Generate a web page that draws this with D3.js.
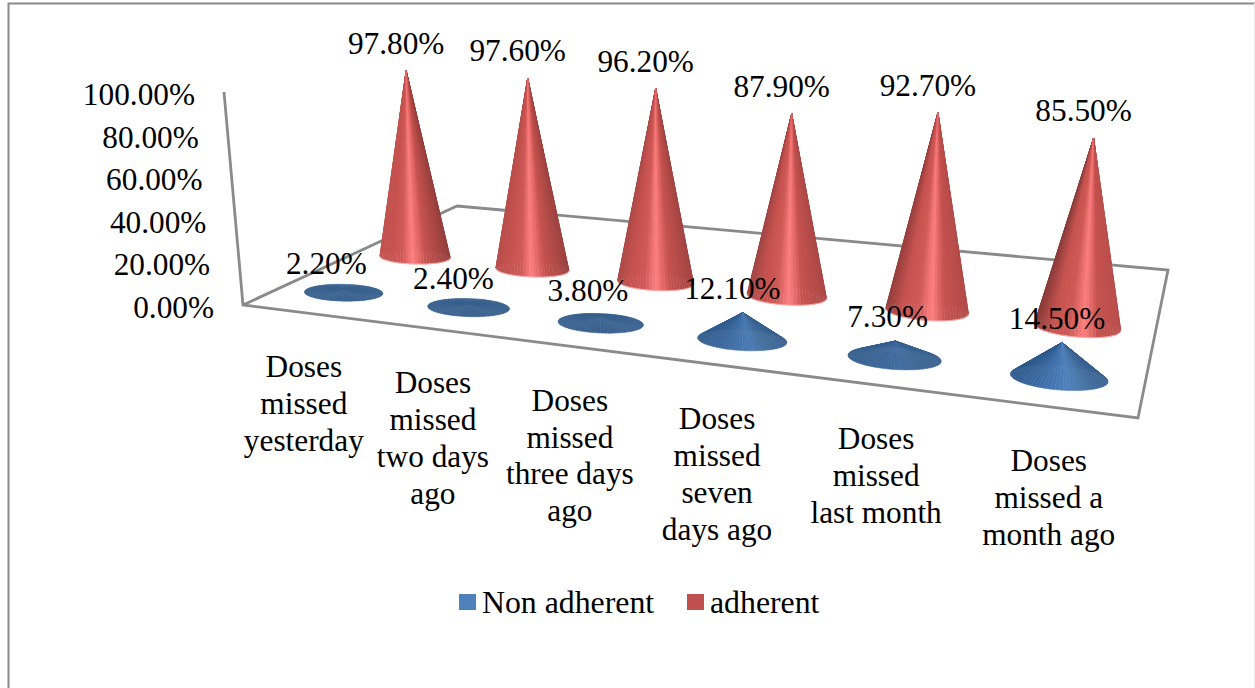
<!DOCTYPE html>
<html>
<head>
<meta charset="utf-8">
<title>Adherence cones</title>
<script src="https://cdn.jsdelivr.net/npm/d3@7/dist/d3.min.js"></script>
<style>
  html, body { margin: 0; padding: 0; background: #fff; }
  svg { display: block; }
  text { font-family: "Liberation Serif", serif; fill: #000; }
</style>
</head>
<body>
<svg id="chart" width="1255" height="688"></svg>
<script>
'use strict';

// ---- Data -------------------------------------------------------------------

const categories = [
  ['Doses', 'missed', 'yesterday'],
  ['Doses', 'missed', 'two days', 'ago'],
  ['Doses', 'missed', 'three days', 'ago'],
  ['Doses', 'missed', 'seven', 'days ago'],
  ['Doses', 'missed', 'last month'],
  ['Doses', 'missed a', 'month ago'],
];
const seriesNames = ['Non adherent', 'adherent'];
const nonAdherent = [2.2, 2.4, 3.8, 12.1, 7.3, 14.5];
const adherent = [97.8, 97.6, 96.2, 87.9, 92.7, 85.5];
const yTicks = [0, 20, 40, 60, 80, 100];

// ---- Layout -----------------------------------------------------------------

const W = 1255, H = 688;
const GRAY = '#8a8a8a';
const FONT = 31.3;

// Floor corners on screen: front-left, front-right, back-right, back-left.
const FL = [243, 305], FR = [1138, 418], BR = [1168, 270], BL = [457, 206];
const WALL_TOP = [224, 92];

const svg = d3.select('#chart');

// Unit square to floor quad.
function makeFloor(p0, p1, p2, p3) {
  const dx1 = p1[0] - p2[0], dx2 = p3[0] - p2[0], sx = p0[0] - p1[0] + p2[0] - p3[0];
  const dy1 = p1[1] - p2[1], dy2 = p3[1] - p2[1], sy = p0[1] - p1[1] + p2[1] - p3[1];
  const den = dx1 * dy2 - dx2 * dy1;
  const g = (sx * dy2 - dx2 * sy) / den;
  const h = (dx1 * sy - sx * dy1) / den;
  const a = p1[0] - p0[0] + g * p1[0], b = p3[0] - p0[0] + h * p3[0];
  const d = p1[1] - p0[1] + g * p1[1], e = p3[1] - p0[1] + h * p3[1];
  return (u, v) => {
    const w = g * u + h * v + 1;
    return [(a * u + b * v + p0[0]) / w, (d * u + e * v + p0[1]) / w];
  };
}
const floor = makeFloor(FL, FR, BR, BL);

// Slight bow on u: the picture has a little less perspective than the floor quad.
const uScale = d3.scalePow().exponent(0.987)
  .domain([0, categories.length - 1]).range([0.085, 0.92]);
const vScale = d3.scalePoint().domain(seriesNames).range([0.16, 0.485]);

// Value axes: up the wall, and px for 100% at a given base depth.
const wallX = d3.scaleLinear().domain([0, 100]).range([FL[0], WALL_TOP[0]]);
const wallY = d3.scaleLinear().domain([0, 100]).range([FL[1], WALL_TOP[1]]);
const fullHeight = d3.scaleLinear().domain([256, 329]).range([190, 222]);
const TILT_X = 655, TILT_K = 5000;

// Base ellipse size and lean, all driven by where the base lands on screen.
const rimRx = d3.scaleLinear().domain([256, 379]).range([35, 49]);
const rimRatio = d3.scaleLinear().domain([256, 379]).range([0.2, 0.25]);
const rimSlope = d3.scaleLinear().domain([345, 1078]).range([0.02, 0.08]);

// Lighting shifts along the row: highlight moves right, left edge gets darker.
const CONE_X = [417, 1078];
const highlightAt = d3.scaleLinear().domain(CONE_X).range([0.47, 0.58]);
const redLeft = d3.scaleLinear().domain(CONE_X).range(['#c25451', '#8a3c3a']);
const redRight = d3.scaleLinear().domain(CONE_X).range(['#96403e', '#bb4f4c']);
function redShadeFor(x) {
  const h = highlightAt(x);
  return d3.scaleLinear()
    .domain([0, h * 0.35, h * 0.7, h, h + (1 - h) * 0.35, 1])
    .range([redLeft(x), '#c65350', '#cf5b58', '#ff8080', '#c65350', redRight(x)]);
}
const blueShade = d3.scaleLinear()
  .domain([0, 0.25, 0.6, 0.8, 1])
  .range(['#2f5a8c', '#3b6aa2', '#4f81bd', '#44719f', '#386090']);
const blueFlat = '#38618f';
const flatness = d3.scaleLinear().domain([3.8, 14.5]).range([0, 1]).clamp(true);

const LEGEND_COLORS = ['#4f81bd', '#c0504d'];

// ---- Frame and walls --------------------------------------------------------

svg.append('path')
  .attr('d', `M8.5,${H}V3.5H${W}`)
  .attr('fill', 'none').attr('stroke', GRAY).attr('stroke-width', 2);
svg.append('line')
  .attr('x1', W - 0.5).attr('x2', W - 0.5).attr('y1', 3).attr('y2', H)
  .attr('stroke', '#e8e8e8').attr('stroke-width', 1);

svg.append('path')
  .attr('d', `M${WALL_TOP}L${FL}L${FR}L${BR}L${BL}L${FL}`)
  .attr('fill', 'none').attr('stroke', GRAY).attr('stroke-width', 2.8)
  .attr('stroke-linejoin', 'miter');

// ---- Cones ------------------------------------------------------------------

function coneGeometry(i, series, value) {
  const base = floor(uScale(i), vScale(series));
  const rx = rimRx(base[1]), ry = rx * rimRatio(base[1]), slope = rimSlope(base[0]);
  const rim = d3.range(72).map(k => {
    const t = k / 72 * 2 * Math.PI;
    const dx = rx * Math.cos(t);
    return [base[0] + dx, base[1] + ry * Math.sin(t) + dx * slope];
  });
  const h = fullHeight(base[1]) * value / 100;
  const apex = [base[0] + (base[0] - TILT_X) / TILT_K * h, base[1] - h];
  return { base, rim, apex, value, series };
}

function drawCone(parent, cone, colorAt) {
  const xs = d3.extent(cone.rim, p => p[0]);
  const slices = cone.rim.map((p, k) => {
    const q = cone.rim[(k + 1) % cone.rim.length];
    return { p, q, mx: (p[0] + q[0]) / 2, my: (p[1] + q[1]) / 2 };
  }).sort((a, b) => a.my - b.my); // back of the rim first
  const g = parent.append('g');
  g.selectAll('path').data(slices).join('path')
    .attr('d', s => `M${cone.apex}L${s.p}L${s.q}Z`)
    .each(function (s) {
      const c = colorAt((s.mx - xs[0]) / (xs[1] - xs[0]));
      d3.select(this).attr('fill', c).attr('stroke', c).attr('stroke-width', 0.5);
    });
  return g;
}

const redCones = adherent.map((v, i) => coneGeometry(i, 'adherent', v));
const blueCones = nonAdherent.map((v, i) => coneGeometry(i, 'Non adherent', v));

const coneLayer = svg.append('g');
redCones.forEach(c => {
  const g = drawCone(coneLayer, c, redShadeFor(c.base[0]));
  // pale lower rim, as on the original render
  g.append('path')
    .attr('d', d3.line()(c.rim.slice(0, 37)))
    .attr('fill', 'none').attr('stroke', '#ffb0b0').attr('stroke-width', 0.9);
});
blueCones.forEach(c => {
  const amt = flatness(c.value);
  drawCone(coneLayer, c, t => d3.interpolateRgb(blueFlat, blueShade(t))(amt));
});

// ---- Text -------------------------------------------------------------------

// Axis labels follow the wall.
svg.append('g').selectAll('text').data(yTicks).join('text')
  .attr('x', d => wallX(d) - 29)
  .attr('y', d => wallY(d) + 13)
  .attr('text-anchor', 'end')
  .attr('font-size', FONT)
  .text(d => d.toFixed(2) + '%');

// Data labels sit above the apex.
const fmt = v => v.toFixed(2) + '%';
const blueDx = d3.scaleLinear().domain([345, 1061]).range([-17, -5]);
svg.append('g').selectAll('text').data(redCones).join('text')
  .attr('x', c => c.apex[0] - 10)
  .attr('y', c => c.apex[1] - 17)
  .attr('text-anchor', 'middle').attr('font-size', FONT)
  .text(c => fmt(c.value));
svg.append('g').selectAll('text').data(blueCones).join('text')
  .attr('x', c => c.apex[0] + blueDx(c.apex[0]))
  .attr('y', c => c.apex[1] - 14)
  .attr('text-anchor', 'middle').attr('font-size', FONT)
  .text(c => fmt(c.value));

// Category labels hang below the front edge of the floor.
const LABEL_DY = 64.5, LINE_H = 36.8;
const catG = svg.append('g').selectAll('g').data(categories).join('g')
  .attr('transform', (d, i) => {
    const [x, y] = floor(uScale(i), 0);
    return `translate(${x},${y + LABEL_DY})`;
  });
catG.selectAll('text').data(d => d).join('text')
  .attr('y', (d, i) => i * LINE_H)
  .attr('text-anchor', 'middle').attr('font-size', FONT)
  .text(d => d);

// Legend.
const legendX = [459, 687];
const legend = svg.append('g').selectAll('g').data(seriesNames).join('g')
  .attr('transform', (d, i) => `translate(${legendX[i]},594)`);
legend.append('rect').attr('width', 17).attr('height', 16)
  .attr('fill', (d, i) => LEGEND_COLORS[i]);
legend.append('text').attr('x', 23).attr('y', 19).attr('font-size', 31.8).text(d => d);
</script>
</body>
</html>
